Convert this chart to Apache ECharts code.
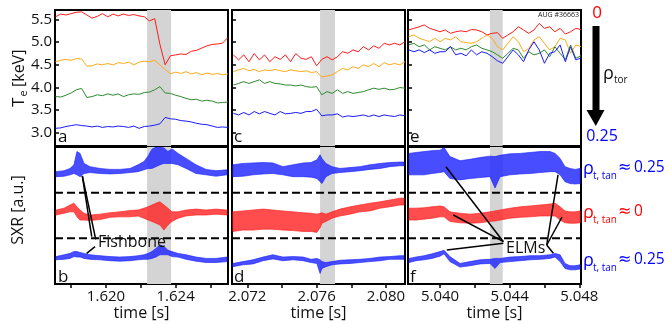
<!DOCTYPE html>
<html><head><meta charset="utf-8">
<script src="https://cdn.jsdelivr.net/npm/echarts@6/dist/echarts.min.js"></script>
<style>html,body{margin:0;padding:0;background:#fff}#c{width:667px;height:324px}</style>
</head><body><div id="c"></div><script>
const F = 'Open Sans';
// ---------- axes ----------
const xRanges = [[1.61707, 1.62701], [2.07112, 2.0811], [5.03816, 5.0481]];
const xLabelVals = [[1.620, 1.624], [2.072, 2.076, 2.080], [5.040, 5.044, 5.048]];
const xTickVals = [[1.618, 1.620, 1.622, 1.624, 1.626], [2.072, 2.074, 2.076, 2.078, 2.080], [5.040, 5.042, 5.044, 5.046, 5.048]];
const grayBands = [[1.62236, 1.62374], [2.07620, 2.07706], [5.04287, 5.04360]];
const teTicks = [3.0, 3.5, 4.0, 4.5, 5.0, 5.5];
const teRange = [2.71, 5.71];
const sxrRange = [0, 3];
const dashLevels = [1, 2];

// ---------- Te data (keV) ----------
const tA = [1.6171,1.6174,1.6177,1.6180,1.6183,1.6186,1.6189,1.6192,1.6195,1.6198,1.6201,1.6204,1.6207,1.6210,1.6213,1.6216,1.6219,1.6222,1.6225,1.6228,1.6231,1.6234,1.6237,1.6240,1.6243,1.6246,1.6249,1.6252,1.6255,1.6258,1.6261,1.6264,1.6267,1.6270];
const redA = [5.56,5.62,5.60,5.63,5.66,5.67,5.60,5.53,5.57,5.63,5.56,5.62,5.58,5.62,5.59,5.61,5.58,5.56,5.47,5.52,4.95,4.50,4.70,4.72,4.74,4.73,4.80,4.82,4.87,4.92,4.95,4.96,4.98,5.10];
const orangeA = [4.57,4.60,4.62,4.60,4.64,4.63,4.47,4.48,4.52,4.50,4.53,4.50,4.55,4.53,4.56,4.50,4.56,4.58,4.57,4.60,4.50,4.40,4.30,4.34,4.31,4.35,4.30,4.33,4.28,4.32,4.29,4.31,4.28,4.30];
const greenA = [3.80,3.79,3.83,3.88,3.95,3.98,3.78,3.80,3.84,3.82,3.86,3.83,3.86,3.80,3.84,3.86,3.85,3.89,3.90,3.95,4.02,3.88,3.87,3.83,3.80,3.76,3.73,3.74,3.70,3.72,3.70,3.66,3.67,3.68];
const blueA = [3.10,3.11,3.14,3.16,3.18,3.16,3.15,3.13,3.15,3.12,3.14,3.13,3.15,3.14,3.12,3.15,3.10,3.14,3.15,3.17,3.20,3.34,3.31,3.30,3.27,3.26,3.24,3.21,3.19,3.18,3.15,3.12,3.13,3.12];

const tC = [2.0712,2.0715,2.0718,2.0721,2.0724,2.0727,2.0730,2.0733,2.0736,2.0739,2.0742,2.0745,2.0748,2.0751,2.0754,2.0757,2.0760,2.0763,2.0766,2.0769,2.0772,2.0775,2.0778,2.0781,2.0784,2.0787,2.0790,2.0793,2.0796,2.0799,2.0802,2.0805,2.0808,2.0811];
const redC = [4.72,4.61,4.72,4.57,4.75,4.61,4.72,4.57,4.68,4.62,4.72,4.57,4.75,4.645,4.62,4.68,4.48,4.62,4.68,4.61,4.68,4.79,4.755,4.83,4.79,4.90,4.83,4.92,4.865,4.975,4.94,4.975,4.94,5.01];
const orangeC = [4.35,4.39,4.42,4.37,4.40,4.35,4.39,4.37,4.40,4.37,4.35,4.39,4.37,4.35,4.37,4.33,4.35,4.23,4.255,4.28,4.35,4.42,4.39,4.46,4.42,4.50,4.46,4.53,4.46,4.55,4.50,4.53,4.50,4.57];
const greenC = [4.055,4.09,4.13,4.09,4.13,4.17,4.09,4.13,4.09,4.08,4.055,4.055,4.035,4.055,4.02,4.005,4.02,3.84,3.91,3.87,3.95,3.87,3.91,3.87,3.89,3.91,3.95,3.985,3.96,3.985,3.95,3.96,4.00,3.985];
const blueC = [3.43,3.395,3.45,3.395,3.47,3.42,3.47,3.43,3.395,3.47,3.42,3.43,3.45,3.43,3.47,3.47,3.52,3.375,3.395,3.395,3.42,3.35,3.375,3.36,3.375,3.395,3.36,3.395,3.36,3.395,3.375,3.36,3.395,3.375];

const tE = [5.0382,5.0385,5.0388,5.0391,5.0394,5.0397,5.0400,5.0403,5.0406,5.0409,5.0412,5.0415,5.0418,5.0421,5.0424,5.0427,5.0430,5.0433,5.0436,5.0439,5.0442,5.0445,5.0448,5.0451,5.0454,5.0457,5.0460,5.0463,5.0466,5.0469,5.0472,5.0475,5.0478,5.0481];
const redE = [5.27,5.305,5.34,5.38,5.305,5.27,5.23,5.27,5.195,5.23,5.25,5.23,5.28,5.27,5.23,5.16,5.195,5.21,5.085,5.16,5.23,5.34,5.27,5.195,5.27,5.415,5.305,5.34,5.23,5.305,5.18,5.23,5.305,5.28];
const orangeE = [5.12,5.16,5.085,5.05,5.01,5.085,5.01,5.085,5.05,5.12,5.01,4.99,4.975,5.01,5.085,5.16,5.085,4.90,4.83,4.975,5.12,5.01,4.79,4.865,5.05,5.12,4.975,4.83,4.90,5.085,5.05,4.755,4.94,4.90];
const greenE = [4.94,4.975,4.90,4.94,4.83,4.90,4.865,4.83,4.90,4.83,4.865,4.83,4.90,4.94,4.865,4.83,4.79,4.72,4.645,4.755,4.865,4.83,4.645,4.79,4.72,4.755,4.83,4.68,4.90,4.755,4.61,4.94,4.645,4.70];
const blueE = [4.83,4.79,4.83,4.77,4.83,4.755,4.79,4.79,4.90,4.72,4.755,4.70,4.83,4.72,4.79,4.755,4.68,4.59,4.535,4.68,4.83,4.72,4.57,4.83,5.01,4.83,4.535,4.755,4.79,4.94,4.57,4.90,4.61,4.65];

// ---------- SXR data (a.u., envelope of the oscillating signal) ----------
const tB = [1.61713,1.61759,1.61793,1.61816,1.61833,1.61851,1.61874,1.61908,1.61966,1.62023,1.62080,1.62138,1.62184,1.62218,1.62241,1.62264,1.62287,1.62310,1.62333,1.62356,1.62379,1.62414,1.62460,1.62517,1.62575,1.62632,1.62695];
const topB_up = [2.46,2.48,2.53,2.61,2.90,2.86,2.64,2.57,2.53,2.51,2.51,2.53,2.61,2.68,2.80,2.95,3.0,3.0,2.98,2.90,2.96,2.86,2.75,2.61,2.51,2.48,2.50];
const topB_lo = [2.35,2.36,2.39,2.42,2.39,2.35,2.42,2.44,2.42,2.41,2.42,2.44,2.46,2.50,2.53,2.53,2.57,2.61,2.64,2.64,2.64,2.61,2.53,2.42,2.39,2.36,2.39];
const midB_up = [1.62,1.66,1.73,1.77,1.69,1.62,1.55,1.51,1.53,1.56,1.58,1.61,1.62,1.66,1.69,1.73,1.77,1.80,1.73,1.66,1.58,1.58,1.62,1.64,1.62,1.64,1.62];
const midB_lo = [1.51,1.55,1.58,1.58,1.47,1.40,1.40,1.39,1.41,1.46,1.47,1.47,1.49,1.44,1.40,1.37,1.33,1.29,1.18,1.29,1.37,1.44,1.49,1.51,1.51,1.53,1.51];
const botB_up = [0.60,0.64,0.67,0.71,0.71,0.69,0.67,0.64,0.62,0.60,0.59,0.60,0.62,0.64,0.67,0.71,0.78,0.86,0.82,0.74,0.71,0.67,0.64,0.59,0.56,0.56,0.59];
const botB_lo = [0.53,0.54,0.56,0.60,0.59,0.59,0.56,0.54,0.53,0.51,0.50,0.51,0.53,0.54,0.54,0.56,0.59,0.64,0.64,0.64,0.60,0.59,0.54,0.50,0.47,0.47,0.49];

const tD = [2.07117,2.07175,2.07233,2.07291,2.07348,2.07406,2.07464,2.07522,2.07568,2.07602,2.07620,2.07631,2.07654,2.07689,2.07735,2.07793,2.07850,2.07908,2.07966,2.08023,2.08081,2.08104];
const topD_up = [2.61,2.64,2.65,2.66,2.65,2.57,2.61,2.65,2.66,2.72,2.83,2.75,2.64,2.57,2.53,2.55,2.57,2.61,2.64,2.66,2.67,2.67];
const topD_lo = [2.35,2.36,2.39,2.41,2.42,2.39,2.35,2.35,2.34,2.31,2.24,2.20,2.35,2.42,2.44,2.46,2.48,2.51,2.53,2.57,2.59,2.59];
const midD_up = [1.58,1.60,1.62,1.64,1.62,1.60,1.58,1.56,1.55,1.53,1.55,1.56,1.53,1.58,1.64,1.69,1.73,1.77,1.80,1.84,1.88,1.88];
const midD_lo = [1.15,1.18,1.18,1.20,1.20,1.18,1.17,1.15,1.15,1.13,1.23,1.33,1.37,1.44,1.49,1.53,1.58,1.60,1.66,1.69,1.73,1.73];
const botD_up = [0.45,0.49,0.53,0.59,0.64,0.59,0.60,0.59,0.54,0.56,0.53,0.49,0.47,0.49,0.52,0.53,0.54,0.56,0.59,0.60,0.62,0.62];
const botD_lo = [0.38,0.42,0.44,0.51,0.55,0.51,0.53,0.51,0.47,0.45,0.23,0.34,0.38,0.42,0.44,0.45,0.47,0.49,0.51,0.54,0.54,0.54];

const tF = [5.03822,5.03862,5.03908,5.03954,5.04000,5.04023,5.04057,5.04115,5.04172,5.04230,5.04287,5.04316,5.04345,5.04402,5.04460,5.04517,5.04575,5.04632,5.04661,5.04690,5.04718,5.04747,5.04776,5.04805];
const topF_up = [2.86,2.88,2.90,2.92,2.93,2.99,2.79,2.70,2.73,2.77,2.80,2.79,2.82,2.85,2.86,2.88,2.90,2.90,2.86,2.75,2.57,2.53,2.51,2.53];
const topF_lo = [2.39,2.39,2.39,2.42,2.44,2.46,2.31,2.28,2.31,2.33,2.35,2.10,2.35,2.39,2.41,2.42,2.44,2.46,2.46,2.39,2.24,2.20,2.19,2.20];
const midF_up = [1.66,1.66,1.67,1.69,1.71,1.69,1.58,1.55,1.53,1.55,1.58,1.60,1.62,1.66,1.69,1.71,1.73,1.75,1.77,1.69,1.60,1.58,1.58,1.60];
const midF_lo = [1.40,1.40,1.42,1.44,1.47,1.47,1.37,1.34,1.33,1.34,1.37,1.38,1.40,1.44,1.46,1.47,1.49,1.49,1.49,1.40,1.34,1.33,1.33,1.34];
const botF_up = [0.56,0.59,0.62,0.66,0.71,0.74,0.60,0.45,0.49,0.53,0.54,0.56,0.56,0.59,0.60,0.62,0.62,0.64,0.67,0.64,0.45,0.40,0.40,0.42];
const botF_lo = [0.47,0.51,0.53,0.56,0.61,0.66,0.49,0.37,0.40,0.44,0.45,0.34,0.47,0.49,0.51,0.53,0.54,0.56,0.59,0.49,0.34,0.31,0.31,0.33];

// ---------- annotation pointers (data coords) ----------
const fishSegs = [[[1.61864,2.365],[1.61918,1.036]],[[1.61864,2.365],[1.61941,0.979]],[[1.61889,0.672],[1.61937,0.817]]];
const elmSegs = [[[5.04034,2.568],[5.04364,0.926]],[[5.04076,1.511],[5.04364,0.926]],[[5.04039,0.744],[5.04364,0.891]],
                 [[5.04678,2.387],[5.04613,0.854]],[[5.04701,1.467],[5.04613,0.854]],[[5.04651,0.672],[5.04613,0.854]]];

// ---------- colours ----------
const C_RED = '#ff1a1a', C_ORG = '#ffaa1a', C_GRN = '#2e8b2e', C_BLU = '#1a1aff';
const B_BLU = '#1a22ff', B_RED = '#ff1f1f';

// ---------- build ----------
const zip = (t, v) => t.map((x, i) => [x, v[i]]);
const grids = [], xAxes = [], yAxes = [], series = [];
const lefts = [55, 232, 408];
for (let r = 0; r < 2; r++) {
  for (let p = 0; p < 3; p++) {
    const gi = r * 3 + p;
    grids.push({left: lefts[p], width: 173, top: r === 0 ? 10 : 147, height: r === 0 ? 136 : 137,
      show: true, borderColor: '#000', borderWidth: 2, backgroundColor: 'transparent'});
    const bottom = r === 1;
    xAxes.push({type: 'value', gridIndex: gi, min: xRanges[p][0], max: xRanges[p][1],
      axisLine: {show: bottom, onZero: false, lineStyle: {color: '#000', width: 2}},
      axisTick: {show: bottom, customValues: xTickVals[p], length: 4, lineStyle: {color: '#000', width: 1.5}},
      axisLabel: {show: bottom, customValues: xLabelVals[p], formatter: v => v.toFixed(3), color: '#111', fontSize: 15, fontFamily: F, margin: 5},
      splitLine: {show: false},
      name: bottom ? 'time [s]' : '', nameLocation: 'middle', nameGap: 21,
      nameTextStyle: {color: '#111', fontSize: 16, fontFamily: F}});
    if (r === 0) {
      yAxes.push({type: 'value', gridIndex: gi, min: teRange[0], max: teRange[1],
        axisLine: {show: false},
        axisTick: {show: true, inside: true, customValues: teTicks, length: 4, lineStyle: {color: '#000', width: 1.5}},
        axisLabel: {show: p === 0, customValues: teTicks, formatter: v => v.toFixed(1), color: '#111', fontSize: 15, fontFamily: F, margin: 3},
        splitLine: {show: false}});
    } else {
      yAxes.push({type: 'value', gridIndex: gi, min: sxrRange[0], max: sxrRange[1],
        axisLine: {show: false}, axisTick: {show: false}, axisLabel: {show: false}, splitLine: {show: false}});
    }
  }
}
function teLine(gi, t, v, color, withArea) {
  const s = {type: 'line', xAxisIndex: gi, yAxisIndex: gi, data: zip(t, v), symbol: 'none', silent: true,
    lineStyle: {color: color, width: 1}, z: 3};
  if (withArea) s.markArea = {silent: true, itemStyle: {color: '#d4d4d4'}, data: [[{xAxis: grayBands[gi % 3][0]}, {xAxis: grayBands[gi % 3][1]}]]};
  return s;
}
function band(gi, t, lo, up, color) {
  return {type: 'custom', xAxisIndex: gi, yAxisIndex: gi, clip: true, silent: true, z: 3,
    data: [[t[0], lo[0]]],
    renderItem: (params, api) => {
      const pts = [];
      for (let i = 0; i < t.length; i++) pts.push(api.coord([t[i], up[i]]));
      for (let i = t.length - 1; i >= 0; i--) pts.push(api.coord([t[i], lo[i]]));
      return {type: 'polygon', shape: {points: pts}, style: {fill: color, stroke: color, lineWidth: 0.8, opacity: 0.8}};
    }};
}
function dashLine(gi, lvl, withArea) {
  const s = {type: 'line', xAxisIndex: gi, yAxisIndex: gi, data: [[xRanges[gi % 3][0], lvl], [xRanges[gi % 3][1], lvl]],
    symbol: 'none', silent: true, lineStyle: {color: '#000', width: 2, type: [8, 4]}, z: 4};
  if (withArea) s.markArea = {silent: true, itemStyle: {color: '#d4d4d4'}, data: [[{xAxis: grayBands[gi % 3][0]}, {xAxis: grayBands[gi % 3][1]}]]};
  return s;
}
function seg(gi, s) {
  return {type: 'line', xAxisIndex: gi, yAxisIndex: gi, data: s, symbol: 'none', silent: true,
    lineStyle: {color: '#000', width: 1.5}, z: 6};
}
// Te panels
[[tA, redA, orangeA, greenA, blueA], [tC, redC, orangeC, greenC, blueC], [tE, redE, orangeE, greenE, blueE]].forEach((d, p) => {
  series.push(teLine(p, d[0], d[1], C_RED, true));
  series.push(teLine(p, d[0], d[2], C_ORG));
  series.push(teLine(p, d[0], d[3], C_GRN));
  series.push(teLine(p, d[0], d[4], C_BLU));
});
// SXR panels
[[tB, topB_lo, topB_up, midB_lo, midB_up, botB_lo, botB_up],
 [tD, topD_lo, topD_up, midD_lo, midD_up, botD_lo, botD_up],
 [tF, topF_lo, topF_up, midF_lo, midF_up, botF_lo, botF_up]].forEach((d, p) => {
  const gi = 3 + p;
  series.push(dashLine(gi, dashLevels[0], true));
  series.push(dashLine(gi, dashLevels[1]));
  series.push(band(gi, d[0], d[1], d[2], B_BLU));
  series.push(band(gi, d[0], d[3], d[4], B_RED));
  series.push(band(gi, d[0], d[5], d[6], B_BLU));
});
fishSegs.forEach(s => series.push(seg(3, s)));
elmSegs.forEach(s => series.push(seg(5, s)));

const txt = (x, y, text, size, color, align, fam) => ({type: 'text', x: x, y: y, z: 10, silent: true,
  style: {text: text, fontSize: size, fontFamily: fam || F, fill: color || '#111', align: align || 'left', verticalAlign: 'middle'}});
const D = 'DejaVu Sans';
const graphic = [
  // panel letters
  txt(58, 137, 'a', 17), txt(234, 137, 'c', 17), txt(410, 137, 'e', 17),
  txt(58, 277, 'b', 17), txt(234, 277, 'd', 17), txt(410, 277, 'f', 17),
  txt(579, 15, 'AUG #36663', 7, '#222', 'right'),
  txt(98, 242, 'Fishbone', 16), txt(506, 248, 'ELMs', 16),
  // y-axis names
  {type: 'group', x: 19, y: 77, rotation: Math.PI / 2, children: [
    {type: 'text', x: -30, y: 0, style: {text: 'T', fontSize: 17, fontFamily: F, fill: '#111', align: 'left', verticalAlign: 'middle'}},
    {type: 'text', x: -19.5, y: 5, style: {text: 'e', fontSize: 11, fontFamily: F, fill: '#111', align: 'left', verticalAlign: 'middle'}},
    {type: 'text', x: -10, y: 0, style: {text: '[keV]', fontSize: 16, fontFamily: F, fill: '#111', align: 'left', verticalAlign: 'middle'}}
  ]},
  {type: 'text', x: 18, y: 210, rotation: Math.PI / 2, style: {text: 'SXR [a.u.]', fontSize: 16, fontFamily: F, fill: '#111', align: 'center', verticalAlign: 'middle'}},
  // rho_tor arrow legend
  txt(597, 13, '0', 17, '#ff0000', 'center'),
  {type: 'rect', shape: {x: 592.5, y: 26, width: 7, height: 85}, style: {fill: '#000'}},
  {type: 'polygon', shape: {points: [[586.5, 110], [604.5, 110], [595.8, 126]]}, style: {fill: '#000'}},
  txt(603, 74, 'ρ', 18), txt(614, 80, 'tor', 10),
  txt(602, 136, '0.25', 16, '#0000ff', 'center'),
  // SXR channel labels
  txt(583, 169, 'ρ', 18, '#0000ff'), txt(593, 176, 't, tan', 10, '#0000ff'), txt(618, 168, '≈', 16, '#0000ff', 'left', D), txt(634, 168, '0.25', 15.5, '#0000ff'),
  txt(583, 213, 'ρ', 18, '#ff0000'), txt(593, 220, 't, tan', 10, '#ff0000'), txt(618, 212, '≈', 16, '#ff0000', 'left', D), txt(634, 212, '0', 15.5, '#ff0000'),
  txt(583, 261, 'ρ', 18, '#0000ff'), txt(593, 268, 't, tan', 10, '#0000ff'), txt(618, 260, '≈', 16, '#0000ff', 'left', D), txt(634, 260, '0.25', 15.5, '#0000ff')
];

const chart = echarts.init(document.getElementById('c'), null, {renderer: 'canvas'});
chart.setOption({animation: false, backgroundColor: '#fff', grid: grids, xAxis: xAxes, yAxis: yAxes, series: series, graphic: graphic});
</script></body></html>
